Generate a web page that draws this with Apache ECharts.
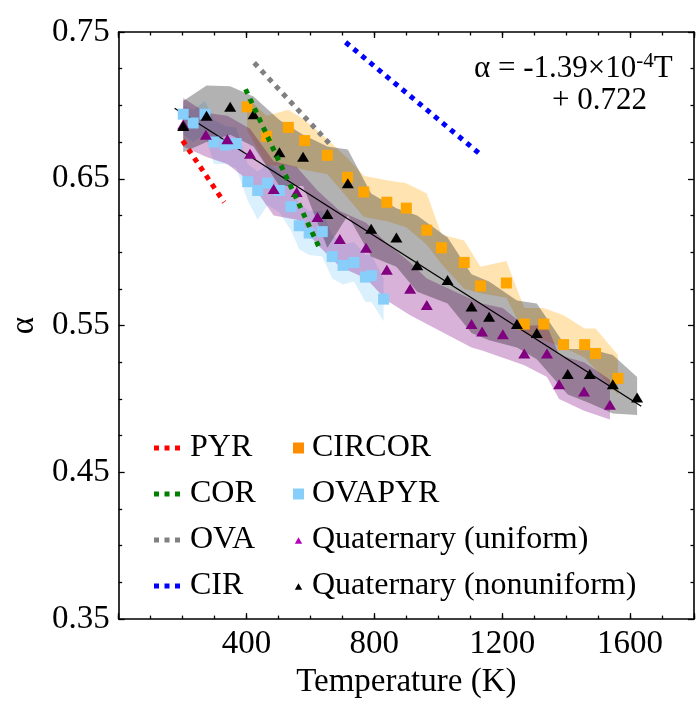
<!DOCTYPE html>
<html lang="en">
<head>
    <meta charset="UTF-8">
    <title>alpha vs temperature</title>
    <script src="https://cdn.jsdelivr.net/npm/echarts@6/dist/echarts.min.js"></script>
</head>
<body style="margin: 0">
<div id="main" style="width: 697px;height: 704px"></div>
</body>

<script>
    // CIRCOR (orange squares) + shaded band
    const circorT = [402, 463, 531, 582, 653, 716, 767, 839, 900, 964, 1010, 1081, 1132, 1213, 1269, 1330, 1392, 1458, 1492, 1562];
    const circorA = [0.699, 0.679, 0.685, 0.676, 0.666, 0.651, 0.641, 0.634, 0.630, 0.615, 0.603, 0.593, 0.577, 0.579, 0.551, 0.551, 0.537, 0.537, 0.531, 0.514];
    const circorHi = [0.705, 0.693, 0.697, 0.690, 0.677, 0.664, 0.652, 0.649, 0.647, 0.640, 0.612, 0.608, 0.590, 0.594, 0.562, 0.562, 0.557, 0.548, 0.548, 0.530];
    const circorLo = [0.683, 0.659, 0.659, 0.656, 0.653, 0.637, 0.624, 0.621, 0.617, 0.605, 0.592, 0.575, 0.572, 0.569, 0.545, 0.540, 0.535, 0.528, 0.520, 0.503];

    // OVAPYR (light blue squares)
    const ovapyrT = [202, 233, 270, 298, 334, 368, 404, 435, 466, 503, 539, 565, 596, 637, 668, 702, 736, 772, 791, 829];
    const ovapyrA = [0.694, 0.688, 0.694, 0.675, 0.673, 0.674, 0.648, 0.642, 0.647, 0.642, 0.631, 0.618, 0.613, 0.614, 0.597, 0.591, 0.593, 0.583, 0.584, 0.568];
    const ovapyrHi = [0.700, 0.697, 0.703, 0.690, 0.686, 0.685, 0.660, 0.655, 0.660, 0.655, 0.645, 0.633, 0.628, 0.628, 0.612, 0.605, 0.607, 0.598, 0.598, 0.582];
    const ovapyrLo = [0.680, 0.675, 0.680, 0.660, 0.660, 0.657, 0.635, 0.622, 0.632, 0.627, 0.615, 0.602, 0.598, 0.597, 0.582, 0.578, 0.580, 0.566, 0.566, 0.553];

    // Quaternary (uniform) purple triangles
    const uniT = [202, 273, 340, 411, 485, 557, 622, 692, 774, 839, 912, 964, 1104, 1137, 1202, 1269, 1340, 1378, 1456, 1537];
    const uniA = [0.687, 0.680, 0.677, 0.667, 0.643, 0.641, 0.624, 0.609, 0.603, 0.588, 0.575, 0.564, 0.551, 0.546, 0.544, 0.531, 0.531, 0.510, 0.505, 0.496];
    const uniHi = [0.705, 0.695, 0.693, 0.684, 0.662, 0.658, 0.642, 0.628, 0.620, 0.606, 0.593, 0.582, 0.568, 0.565, 0.562, 0.550, 0.550, 0.530, 0.525, 0.513];
    const uniLo = [0.672, 0.665, 0.660, 0.648, 0.625, 0.622, 0.605, 0.590, 0.582, 0.567, 0.557, 0.551, 0.535, 0.533, 0.528, 0.523, 0.515, 0.500, 0.492, 0.486];

    // Quaternary (nonuniform) black triangles
    const nonT = [202, 275, 349, 422, 503, 577, 653, 717, 790, 869, 934, 1029, 1104, 1159, 1246, 1308, 1405, 1474, 1546, 1622];
    const nonA = [0.686, 0.693, 0.699, 0.694, 0.668, 0.665, 0.626, 0.647, 0.616, 0.610, 0.591, 0.581, 0.563, 0.556, 0.551, 0.545, 0.517, 0.517, 0.510, 0.501];
    const nonHi = [0.703, 0.7135, 0.713, 0.706, 0.690, 0.680, 0.672, 0.670, 0.640, 0.630, 0.625, 0.610, 0.585, 0.580, 0.567, 0.565, 0.534, 0.534, 0.530, 0.515];
    const nonLo = [0.668, 0.675, 0.680, 0.672, 0.645, 0.645, 0.603, 0.625, 0.597, 0.590, 0.573, 0.565, 0.545, 0.540, 0.535, 0.527, 0.503, 0.497, 0.490, 0.489];

    // dotted reference lines (end points)
    const pyrT = [200, 330], pyrA = [0.676, 0.634];
    const corT = [397, 632], corA = [0.711, 0.601];
    const ovaT = [424, 668], ovaA = [0.729, 0.672];
    const cirT = [710, 1135], cirA = [0.743, 0.666];

    // linear fit line end points
    const fitT = [175, 1635], fitA = [0.698, 0.495];

    const xTickLabels = [400, 800, 1200, 1600];

    const FONT = 'Liberation Serif';
    const DOTS = 'path://M0,0h5v5h-5z M10.5,0h5v5h-5z M21,0h5v5h-5z';
    const TRI = 'path://M0,0M12,12M6,3L10,10L2,10Z';

    function pairs(xs, ys) {
        return xs.map((x, i) => [x, ys[i]]);
    }

    function band(name, xs, lo, hi, color) {
        return {
            type: 'custom',
            name: name,
            z: 1,
            silent: true,
            clip: true,
            data: [[xs[0], lo[0]]],
            renderItem: function (params, api) {
                const pts = [];
                for (let i = 0; i < xs.length; i++) pts.push(api.coord([xs[i], hi[i]]));
                for (let i = xs.length - 1; i >= 0; i--) pts.push(api.coord([xs[i], lo[i]]));
                return {type: 'polygon', shape: {points: pts}, style: {fill: color}};
            }
        };
    }

    function dotted(name, xs, ys, color) {
        return {
            type: 'line', name: name, z: 6, symbol: 'none', silent: true,
            data: pairs(xs, ys),
            lineStyle: {color: color, width: 5, type: [5, 5.5], cap: 'butt'},
            itemStyle: {color: color}
        };
    }

    function marks(name, xs, ys, symbol, size, color) {
        return {
            type: 'scatter', name: name, z: 5, symbol: symbol, symbolSize: size,
            data: pairs(xs, ys),
            itemStyle: {color: color, opacity: 1}
        };
    }

    const tickStyle = {color: '#000', width: 1.3};
    const lineStyleAxis = {color: '#000', width: 1.6};

    function xAx(pos, major, labels) {
        return {
            type: 'value', position: pos, min: 0, max: 1800, interval: major ? 400 : 100,
            axisLine: {show: major, onZero: false, lineStyle: lineStyleAxis},
            axisTick: {inside: true, length: major ? 6 : 3.5, lineStyle: tickStyle},
            splitLine: {show: false},
            axisLabel: {
                show: labels, fontSize: 33, fontFamily: FONT, color: '#000', margin: 9,
                formatter: v => xTickLabels.indexOf(v) >= 0 ? String(v) : ''
            },
            name: labels ? 'Temperature (K)' : '',
            nameLocation: 'middle', nameGap: 43,
            nameTextStyle: {fontSize: 33, fontFamily: FONT, color: '#000'}
        };
    }

    function yAx(pos, labels) {
        return {
            type: 'value', position: pos, min: 0.35, max: 0.75, interval: 0.1,
            axisLine: {show: true, onZero: false, lineStyle: lineStyleAxis},
            axisTick: {inside: true, length: 6, lineStyle: tickStyle},
            minorTick: {show: true, splitNumber: 4, length: 3.5, lineStyle: tickStyle},
            splitLine: {show: false},
            axisLabel: {
                show: labels, fontSize: 33, fontFamily: FONT, color: '#000', margin: 9,
                formatter: v => v.toFixed(2)
            },
            name: labels ? 'α' : '',
            nameLocation: 'middle', nameGap: 70, nameRotate: 90,
            nameTextStyle: {fontSize: 33, fontFamily: FONT, color: '#000'}
        };
    }

    const legendText = {fontSize: 32, fontFamily: FONT, color: '#000', lineHeight: 32};

    const chart = echarts.init(document.getElementById('main'));
    chart.setOption({
        animation: false,
        backgroundColor: '#fff',
        grid: {left: 115, right: 3, top: 32, bottom: 80},
        xAxis: [xAx('bottom', true, true), xAx('bottom', false, false), xAx('top', true, false), xAx('top', false, false)],
        yAxis: [yAx('left', true), yAx('right', false)],
        legend: [
            {
                data: [
                    {name: 'PYR', icon: DOTS, itemStyle: {color: '#FF0000'}},
                    {name: 'COR', icon: DOTS, itemStyle: {color: '#008000'}},
                    {name: 'OVA', icon: DOTS, itemStyle: {color: '#808080'}},
                    {name: 'CIR', icon: DOTS, itemStyle: {color: '#0000FF'}}
                ],
                orient: 'vertical', left: 149, top: 427,
                itemWidth: 26, itemHeight: 5, itemGap: 14,
                textStyle: Object.assign({padding: [0, 0, 0, 5]}, legendText),
                selectedMode: false
            },
            {
                data: [
                    {name: 'CIRCOR', icon: 'rect', itemStyle: {color: '#FF8C00'}},
                    {name: 'OVAPYR', icon: 'rect', itemStyle: {color: '#87CEFA'}},
                    {name: 'Quaternary (uniform)', icon: TRI, itemStyle: {color: '#B800B8'}},
                    {name: 'Quaternary (nonuniform)', icon: TRI, itemStyle: {color: '#000'}}
                ],
                orient: 'vertical', left: 288, top: 427,
                itemWidth: 11, itemHeight: 11, itemGap: 14,
                textStyle: Object.assign({padding: [0, 0, 0, 3]}, legendText),
                selectedMode: false
            }
        ],
        graphic: [
            {
                type: 'text', left: 474, top: 51, z: 10,
                style: {
                    text: '{a|α = -1.39×10}{s|-4}{a|T}',
                    rich: {
                        a: {fontSize: 31, fontFamily: FONT, fill: '#000', lineHeight: 35},
                        s: {fontSize: 21, fontFamily: FONT, fill: '#000', verticalAlign: 'top', lineHeight: 35}
                    }
                }
            },
            {
                type: 'text', left: 552, top: 85, z: 10,
                style: {text: '+ 0.722', fontSize: 31, fontFamily: FONT, fill: '#000'}
            }
        ],
        series: [
            band('CIRCOR band', circorT, circorLo, circorHi, 'rgba(255,165,0,0.3)'),
            band('OVAPYR band', ovapyrT, ovapyrLo, ovapyrHi, 'rgba(135,206,250,0.3)'),
            band('uniform band', uniT, uniLo, uniHi, 'rgba(128,0,128,0.3)'),
            band('nonuniform band', nonT, nonLo, nonHi, 'rgba(0,0,0,0.3)'),
            {
                type: 'line', name: 'fit', z: 4, symbol: 'none', silent: true,
                data: pairs(fitT, fitA),
                lineStyle: {color: '#000', width: 1.3}
            },
            marks('CIRCOR', circorT, circorA, 'rect', 11, '#FFA500'),
            marks('OVAPYR', ovapyrT, ovapyrA, 'rect', 11, '#87CEFA'),
            marks('Quaternary (uniform)', uniT, uniA, 'triangle', [12, 10], '#800080'),
            marks('Quaternary (nonuniform)', nonT, nonA, 'triangle', [12, 10], '#000'),
            dotted('PYR', pyrT, pyrA, '#FF0000'),
            dotted('COR', corT, corA, '#008000'),
            dotted('OVA', ovaT, ovaA, '#808080'),
            dotted('CIR', cirT, cirA, '#0000FF')
        ]
    });
</script>

</html>
